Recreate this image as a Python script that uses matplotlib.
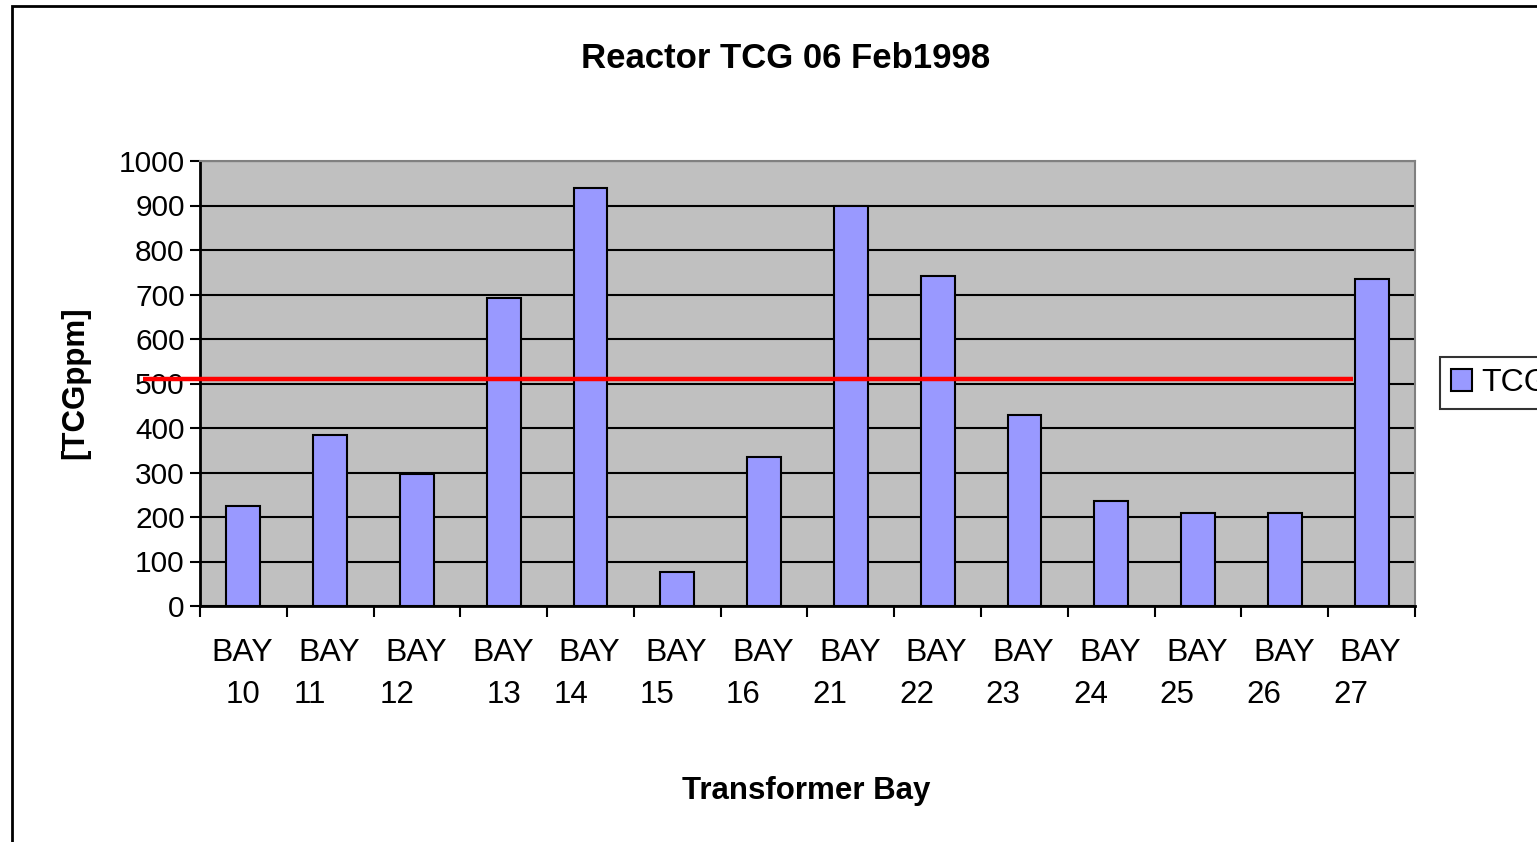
import numpy as np
import matplotlib.pyplot as plt
from matplotlib.patches import Rectangle
from matplotlib.transforms import offset_copy

plt.rcParams['font.family'] = ['Liberation Sans', 'DejaVu Sans']

# data
bays = ["10", "11", "12", "13", "14", "15", "16", "21", "22", "23", "24", "25", "26", "27"]
tcg = [225, 384, 297, 692, 939, 77, 335, 899, 742, 429, 236, 209, 209, 735]
batas = 510  # garis batas TCG

# geser label angka (pixel), meniru teks Excel
geser = [0, -20, -20, 0, -20, -20, -21, -21, -21, -22, -20, -21, -21, -21]

fig = plt.figure(figsize=(15.37, 8.42), dpi=100)
ax = fig.add_axes([200/1537, 1 - 606/842, 1215/1537, 445/842])

x = np.arange(len(bays))
ax.set_facecolor('#C0C0C0')
ax.bar(x, tcg, width=0.39, color='#9999FF', edgecolor='black', linewidth=1.5,
       label='TCG', zorder=3)

ax.set_xlim(-0.5, len(bays) - 0.5)
ax.set_ylim(0, 1000)
ax.set_yticks(np.arange(0, 1001, 100))
ax.yaxis.grid(True, color='black', linewidth=1.5, zorder=1)
ax.set_axisbelow(True)

# tick di batas kategori
ax.set_xticks(np.arange(-0.5, len(bays), 1))
ax.set_xticklabels([])
ax.tick_params(axis='x', length=8, width=1.5, direction='out')
ax.tick_params(axis='y', length=7, width=1.5, direction='out', labelsize=21.5, pad=4)

for s in ['left', 'bottom']:
    ax.spines[s].set_linewidth(2)
for s in ['top', 'right']:
    ax.spines[s].set_color('#808080')
    ax.spines[s].set_linewidth(1.5)

trans = ax.get_xaxis_transform()
for i, b in enumerate(bays):
    ax.text(i, 0, "BAY", transform=offset_copy(trans, fig=fig, x=-1, y=-47, units='dots'),
            ha='center', va='center', fontsize=23)
    ax.text(i, 0, b, transform=offset_copy(trans, fig=fig, x=geser[i], y=-89, units='dots'),
            ha='center', va='center', fontsize=22.5)

# garis merah batas
ax.hlines(batas, -0.047, 0.949, transform=ax.get_yaxis_transform(), color='red',
          linewidth=3.2, clip_on=False, zorder=4)

fig.text(786/1537, 1 - 58/842, 'Reactor TCG 06 Feb1998', ha='center', va='center',
         fontsize=25, fontweight='bold')
fig.text(806/1537, 1 - 791/842, 'Transformer Bay', ha='center', va='center',
         fontsize=22.5, fontweight='bold')
fig.text(75/1537, 1 - 383/842, '[TCGppm]', ha='center', va='center', rotation=90,
         fontsize=22.5, fontweight='bold')

leg = fig.legend(loc='upper left', bbox_to_anchor=(1440/1537, 1 - 357/842),
                 fontsize=23, frameon=True, fancybox=False, edgecolor='black',
                 handlelength=0.65, handleheight=0.65, handletextpad=0.3,
                 borderpad=0.35, borderaxespad=0)
leg.get_frame().set_linewidth(1.5)

# bingkai luar chart
fig.patches.append(Rectangle((12/1537, -0.1), 1.2, 1.1 - 6/842, transform=fig.transFigure,
                             fill=False, edgecolor='black', linewidth=2))

fig.savefig('out.png', dpi=100)
